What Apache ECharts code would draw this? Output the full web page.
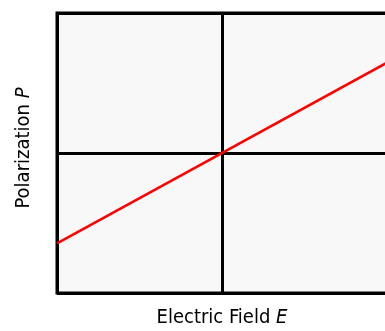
<!DOCTYPE html>
<html>
<head>
<meta charset="utf-8">
<script src="https://cdn.jsdelivr.net/npm/echarts@6/dist/echarts.min.js"></script>
<style>
  html, body { margin: 0; padding: 0; background: #fff; }
  #chart { width: 385px; height: 331px; }
</style>
</head>
<body>
<div id="chart"></div>
<script>
// linear dielectric: P grows in proportion to E
const fieldE = [-1, 1]
const polarizationP = [-0.645, 0.645]
const xTitle = 'Electric Field {i|E}'
const yTitle = 'Polarization {i|P}'

const font = '"DejaVu Sans Condensed", "DejaVu Sans", sans-serif'
const nameStyle = {
  fontFamily: font,
  fontSize: 20,
  color: '#000',
  rich: { i: { fontFamily: font, fontSize: 20, fontStyle: 'italic', color: '#000' } }
}

const chart = echarts.init(document.getElementById('chart'))

chart.setOption({
  animation: false,
  grid: {
    left: 57,
    top: 13,
    right: -2,
    bottom: 38,
    outerBoundsMode: 'none',
    containLabel: false,
    show: true,
    backgroundColor: '#f8f8f8',
    borderColor: '#000',
    borderWidth: 3
  },
  xAxis: {
    type: 'value',
    min: -1,
    max: 1,
    interval: 1,
    name: xTitle,
    nameLocation: 'middle',
    nameGap: 15,
    nameTextStyle: nameStyle,
    axisLine: { show: false },
    axisTick: { show: false },
    axisLabel: { show: false },
    splitLine: { show: true, lineStyle: { color: '#000', width: 3 } }
  },
  yAxis: {
    type: 'value',
    min: -1,
    max: 1,
    interval: 1,
    name: yTitle,
    nameLocation: 'middle',
    nameGap: 23,
    nameTextStyle: Object.assign({}, nameStyle, { padding: [0, 0, 0, 10] }),
    axisLine: { show: false },
    axisTick: { show: false },
    axisLabel: { show: false },
    splitLine: { show: true, lineStyle: { color: '#000', width: 3 } }
  },
  series: [{
    type: 'line',
    data: fieldE.map((e, i) => [e, polarizationP[i]]),
    showSymbol: false,
    lineStyle: { color: '#ff0000', width: 2.5 },
    z: 5
  }]
})
</script>
</body>
</html>
